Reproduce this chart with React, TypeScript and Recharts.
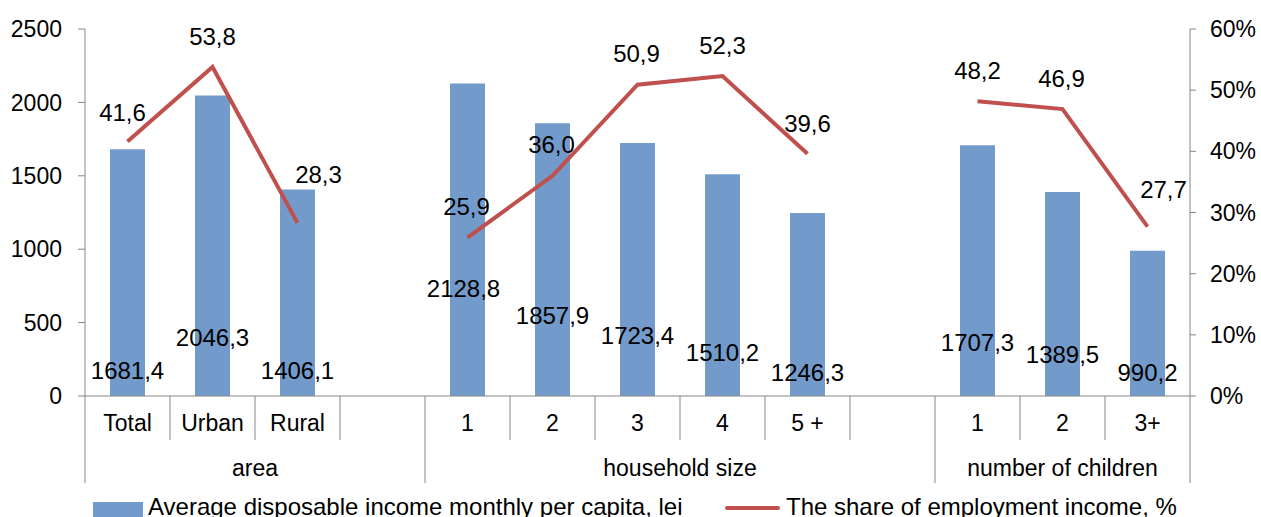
import React from 'react';
import {
  ComposedChart,
  Bar,
  Line,
  XAxis,
  YAxis,
  Legend,
  LabelList,
} from 'recharts';

// categories along the x axis ('' = empty spacer column between groups)
const categories = ['Total', 'Urban', 'Rural', '', '1', '2', '3', '4', '5 +', '', '1', '2', '3+'];
const income = [1681.4, 2046.3, 1406.1, null, 2128.8, 1857.9, 1723.4, 1510.2, 1246.3, null, 1707.3, 1389.5, 990.2];
const share = [41.6, 53.8, 28.3, null, 25.9, 36.0, 50.9, 52.3, 39.6, null, 48.2, 46.9, 27.7];

const groupNames = ['area', 'household size', 'number of children'];
const groupStarts = [0, 4, 10];
const groupSpans = [4, 6, 3];

const leftTicks = [0, 500, 1000, 1500, 2000, 2500];
const rightTicks = [0, 10, 20, 30, 40, 50, 60];

// hand placement of the value labels (as in the original sheet)
const incomeLabelLift = [26, 59, 26, 0, 108, 81, 61, 44, 24, 0, 54, 42, 24];
const incomeLabelDx = [0, 0, 0, 0, -4, 0, 0, 0, 0, 0, 0, 0, 0];
const shareLabelDx = [-5, 0, 21, 0, -1, -1, -1, 0, 0, 0, 0, -1, 16];
const shareLabelDy = [-29, -30, -48, 0, -31, -31, -31, -31, -30, 0, -31, -31, -37];

const data = categories.map((cat, i) => ({
  cat,
  income: income[i],
  share: share[i],
}));

const FONT = '"Liberation Sans", Arial, sans-serif';
const BAR = '#729ACA';
const LINE = '#C0504D';
const AXIS = '#868686';

const W = 1261;
const H = 517;
const LEFT_W = 85;
const RIGHT_W = 71;
const BAND = (W - LEFT_W - RIGHT_W) / categories.length;

const fmt = (v: number) => v.toFixed(1).replace('.', ',');

const CategoryTick = (props: any) => {
  const { x, y, index, payload } = props;
  const left = x - BAND / 2;
  const g = groupStarts.indexOf(index);
  return (
    <g>
      <line x1={left} x2={left} y1={y} y2={y + (g >= 0 ? 87 : 44)} stroke={AXIS} strokeWidth={1} />
      {index === categories.length - 1 && (
        <line x1={x + BAND / 2} x2={x + BAND / 2} y1={y} y2={y + 87} stroke={AXIS} strokeWidth={1} />
      )}
      <text x={x} y={y + 27} textAnchor="middle" dominantBaseline="central" fontSize={23} fontFamily={FONT} fill="#000">
        {payload.value}
      </text>
      {g >= 0 && (
        <text
          x={left + (groupSpans[g] * BAND) / 2}
          y={y + 72}
          textAnchor="middle"
          dominantBaseline="central"
          fontSize={23}
          fontFamily={FONT}
          fill="#000"
        >
          {groupNames[g]}
        </text>
      )}
    </g>
  );
};

const IncomeLabel = (props: any) => {
  const { x, y, width, height, value } = props;
  if (value == null) return null;
  const i = income.indexOf(value);
  return (
    <text
      x={x + width / 2 + incomeLabelDx[i]}
      y={y + height - incomeLabelLift[i]}
      textAnchor="middle"
      dominantBaseline="central"
      fontSize={24}
      fontFamily={FONT}
      fill="#000"
    >
      {fmt(value)}
    </text>
  );
};

const ShareLabel = (props: any) => {
  const { x, y, value } = props;
  if (value == null) return null;
  const i = share.indexOf(value);
  return (
    <text
      x={x + shareLabelDx[i]}
      y={y + shareLabelDy[i]}
      textAnchor="middle"
      dominantBaseline="central"
      fontSize={24}
      fontFamily={FONT}
      fill="#000"
    >
      {fmt(value)}
    </text>
  );
};

const LegendBox = () => (
  <div style={{ position: 'relative', height: 30, width: W, fontFamily: FONT, fontSize: 24, lineHeight: '24px', color: '#000' }}>
    <div style={{ position: 'absolute', left: 93, top: 15, width: 50, height: 15, background: BAR }} />
    <div style={{ position: 'absolute', left: 148, top: 8, whiteSpace: 'nowrap' }}>
      Average disposable income monthly per capita, lei
    </div>
    <div style={{ position: 'absolute', left: 725, top: 19, width: 55, height: 4, background: LINE, borderRadius: 2 }} />
    <div style={{ position: 'absolute', left: 786, top: 8, whiteSpace: 'nowrap' }}>
      The share of employment income, %
    </div>
  </div>
);

export default function App() {
  return (
    <div style={{ position: 'fixed', left: 0, top: 0, width: W, height: H, overflow: 'hidden', background: '#fff', fontFamily: FONT }}>
      <ComposedChart width={W} height={H} data={data} margin={{ top: 29, right: 0, bottom: 0, left: 0 }}>
        <XAxis
          dataKey="cat"
          xAxisId="x"
          interval={0}
          height={91}
          stroke={AXIS}
          tickLine={false}
          tickSize={0}
          tickMargin={0}
          tick={<CategoryTick />}
        />
        <YAxis
          yAxisId="left"
          width={LEFT_W}
          domain={[0, 2500]}
          ticks={leftTicks}
          stroke={AXIS}
          tickSize={7}
          tickMargin={16}
          tick={{ fontSize: 23, fill: '#000', fontFamily: FONT }}
        />
        <YAxis
          yAxisId="right"
          orientation="right"
          width={RIGHT_W}
          domain={[0, 60]}
          ticks={rightTicks}
          stroke={AXIS}
          tickSize={6}
          tickMargin={14}
          tickFormatter={(v: number) => `${v}%`}
          tick={{ fontSize: 23, fill: '#000', fontFamily: FONT }}
        />
        <Legend verticalAlign="bottom" align="left" wrapperStyle={{ left: 0, width: W }} content={<LegendBox />} />
        <Bar xAxisId="x" yAxisId="left" dataKey="income" fill={BAR} barSize={35} isAnimationActive={false}>
          <LabelList dataKey="income" content={<IncomeLabel />} />
        </Bar>
        <Line
          xAxisId="x"
          yAxisId="right"
          dataKey="share"
          stroke={LINE}
          strokeWidth={4}
          dot={false}
          connectNulls={false}
          isAnimationActive={false}
        >
          <LabelList dataKey="share" content={<ShareLabel />} />
        </Line>
      </ComposedChart>
    </div>
  );
}
